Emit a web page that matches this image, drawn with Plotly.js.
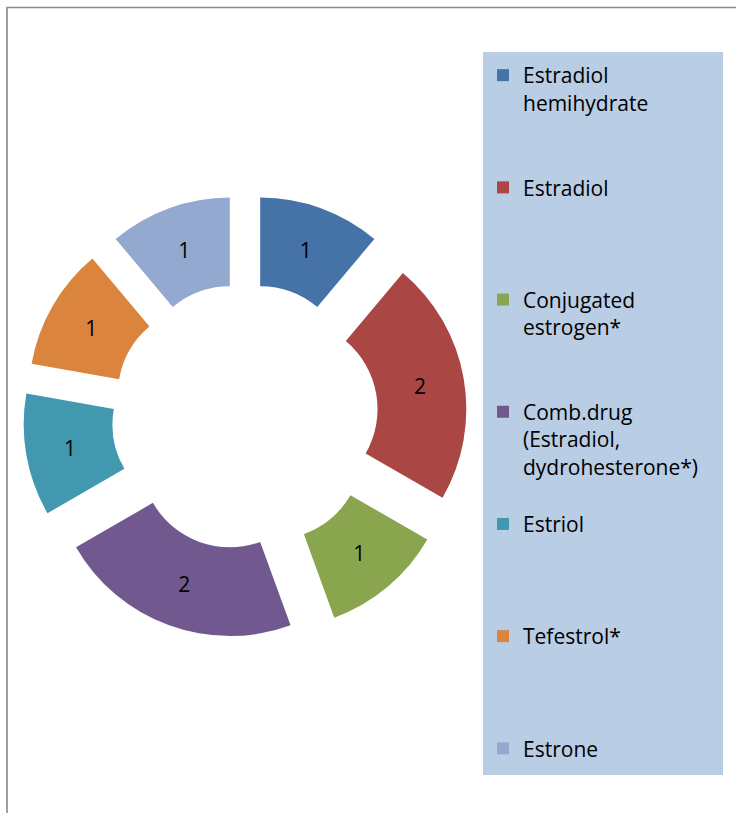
<!DOCTYPE html>
<html>
<head>
<meta charset="utf-8">
<script src="https://cdn.plot.ly/plotly-3.0.1.min.js"></script>
<style>html,body{margin:0;padding:0;background:#fff;}#chart{width:736px;height:813px;}</style>
</head>
<body>
<div id="chart"></div>
<script>
// Data
var labels = [
  "Estradiol hemihydrate",
  "Estradiol",
  "Conjugated estrogen*",
  "Comb.drug (Estradiol, dydrohesterone*)",
  "Estriol",
  "Tefestrol*",
  "Estrone"
];
var legendLines = [
  ["Estradiol", "hemihydrate"],
  ["Estradiol"],
  ["Conjugated", "estrogen*"],
  ["Comb.drug", "(Estradiol,", "dydrohesterone*)"],
  ["Estriol"],
  ["Tefestrol*"],
  ["Estrone"]
];
var values = [1, 2, 1, 2, 1, 1, 1];
var colors = ["#4572A7", "#AA4643", "#89A54E", "#71588F", "#4198AF", "#DB843D", "#93A9CF"];

var LINES_PER_ENTRY = 4;
var NB = "\u00a0";
var legendText = legendLines.map(function (ls, i) {
  var out = ls.slice();
  if (i < legendLines.length - 1) {
    while (out.length < LINES_PER_ENTRY) out.push(NB);
  }
  return out.join("<br>");
});

var W = 736, H = 813;
function px(x) { return x / W; }
function py(y) { return 1 - y / H; }

var trace = {
  type: "pie",
  labels: legendText,
  values: values,
  sort: false,
  direction: "clockwise",
  rotation: 0,
  hole: 0.5,
  pull: values.map(function () { return 0.25; }),
  marker: { colors: colors, line: { width: 0 } },
  textinfo: "value",
  textposition: "inside",
  insidetextorientation: "horizontal",
  insidetextfont: { color: "#000000", size: 21, family: "Open Sans, sans-serif" },
  domain: { x: [px(23), px(467)], y: [py(639), py(194.5)] },
  hoverinfo: "label+value"
};

var layout = {
  width: W,
  height: H,
  margin: { l: 0, r: 0, t: 0, b: 0 },
  paper_bgcolor: "#ffffff",
  font: { family: "Open Sans, sans-serif", color: "#000000" },
  showlegend: true,
  legend: {
    x: px(483), xanchor: "left",
    y: py(55), yanchor: "top",
    bgcolor: "rgba(0,0,0,0)",
    borderwidth: 0,
    font: { size: 21, color: "#000000", family: "Open Sans, sans-serif" },
    valign: "top",
    traceorder: "normal"
  },
  shapes: [
    {
      type: "rect", xref: "paper", yref: "paper", layer: "below",
      x0: px(483), x1: px(723), y0: py(775), y1: py(52),
      fillcolor: "#B9CDE5", line: { width: 0 }
    },
    {
      type: "rect", xref: "paper", yref: "paper", layer: "above",
      x0: px(7), x1: px(760), y0: py(840), y1: py(7.5),
      fillcolor: "rgba(0,0,0,0)", line: { color: "#888888", width: 1.6 }
    }
  ]
};

Plotly.newPlot("chart", [trace], layout, { displayModeBar: false, staticPlot: true });
</script>
</body>
</html>
